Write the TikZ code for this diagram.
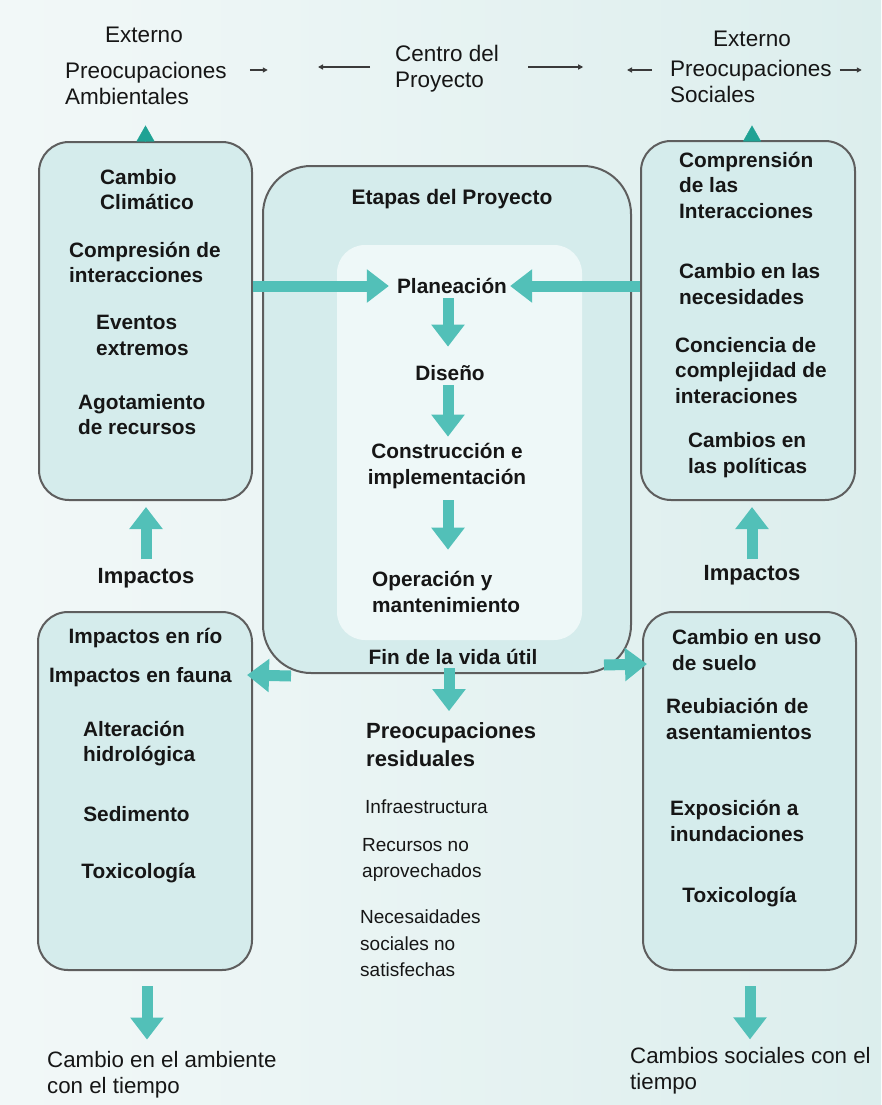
\documentclass[tikz,border=0pt]{standalone}
\usepackage{fontspec}
\setmainfont{Liberation Sans}
\usetikzlibrary{arrows.meta,calc}
\definecolor{bgL}{HTML}{F2F8F8}
\definecolor{bgR}{HTML}{DCEEED}
\definecolor{boxfill}{HTML}{D5ECEC}
\definecolor{innerfill}{HTML}{EEF8F8}
\definecolor{boxline}{HTML}{5E5E5E}
\definecolor{tealarr}{HTML}{52C0B8}
\definecolor{tealdark}{HTML}{1FA294}
\definecolor{txt}{HTML}{161616}
\definecolor{thinarr}{HTML}{3A3A3A}
\newcommand\ftBold{\fontsize{20.8}{25.5}\selectfont\bfseries}
\newcommand\ftBig{\fontsize{22}{28}\selectfont\bfseries}
\newcommand\ftTop{\fontsize{22.5}{26}\selectfont}
\newcommand\ftSmall{\fontsize{19}{26.5}\selectfont}
\newcommand\ftBot{\fontsize{22.3}{26}\selectfont}
\begin{document}
\begin{tikzpicture}[x=1pt,y=-1pt,
  bigbox/.style={draw=boxline, line width=2pt, fill=boxfill, rounded corners=30pt, inner sep=0pt},
  tB/.style={font=\ftBold, text=txt, inner sep=2pt, align=left},
  tBig/.style={font=\ftBig, text=txt, inner sep=2pt, align=left},
  tTop/.style={font=\ftTop, text=txt, inner sep=2pt, align=left},
  tSm/.style={font=\ftSmall, text=txt, inner sep=2pt, align=left},
  tBot/.style={font=\ftBot, text=txt, inner sep=2pt, align=left},
  barrow/.style={draw=tealarr, line width=11pt, -{Triangle[width=32pt,length=22pt]}},
  tipup/.style={draw=tealdark, line width=0.4pt, -{Triangle[width=18pt,length=16pt]}},
  tarrow/.style={draw=thinarr, line width=1.5pt, -{Triangle[width=5pt,length=5pt]}}
]
\shade[left color=bgL, right color=bgR] (0,0) rectangle (881,1105);
\useasboundingbox (0,0) rectangle (881,1105);

% boxes
\node[bigbox, minimum width=213pt, minimum height=358pt] (ltbox) at (145.5,321) {};
\node[bigbox, minimum width=214pt, minimum height=359pt] (rtbox) at (748,320.5) {};
\node[bigbox, rounded corners=48pt, minimum width=368pt, minimum height=507pt] (cbox) at (447,419.5) {};
\node[fill=innerfill, rounded corners=28pt, inner sep=0pt, minimum width=245pt, minimum height=395pt] (inner) at (459.5,442.5) {};
\node[bigbox, minimum width=214pt, minimum height=358pt] (lbbox) at (145,791) {};
\node[bigbox, minimum width=213pt, minimum height=358pt] (rbbox) at (749.5,791) {};

% top row
\node[tTop] (extL) at (144,35) {Externo};
\node[tTop, anchor=west] (envL) at (63,83) {Preocupaciones\\Ambientales};
\node[tTop, anchor=west] (centro) at (393,69) {Centro del\\Proyecto};
\node[tTop] (extR) at (752,39) {Externo};
\node[tTop, anchor=west] (socL) at (668,81) {Preocupaciones\\Sociales};

% left top box
\node[tB, anchor=west] (cc) at (98,189.5) {Cambio\\Climático};
\node[tB, anchor=west] (ci) at (67,262.5) {Compresión de\\interacciones};
\node[tB, anchor=west] (ee) at (94,335.5) {Eventos\\extremos};
\node[tB, anchor=west] (ar) at (76,414.5) {Agotamiento\\de recursos};

% right top box
\node[tB, anchor=west] (ci2) at (677,185) {Comprensión\\de las\\Interacciones};
\node[tB, anchor=west] (cn) at (677,284) {Cambio en las\\necesidades};
\node[tB, anchor=west] (cc2) at (673,370.5) {Conciencia de\\complejidad de\\interaciones};
\node[tB, anchor=west] (cp) at (686,455) {Cambios en\\las políticas};

% center
\node[tB, font=\fontsize{21}{26}\selectfont\bfseries] (etapas) at (452,199) {Etapas del Proyecto};
\node[tB] (plan) at (452,286) {Planeación};
\node[tB] (dis) at (450,373) {Diseño};
\node[tB, align=center] (cons) at (447,466) {Construcción e\\implementación};
\node[tB, anchor=west] (oper) at (370,592) {Operación y\\mantenimiento};
\node[tB] (fin) at (453,657) {Fin de la vida útil};

% impactos
\node[tBig] (impL) at (146,578) {Impactos};
\node[tBig] (impR) at (752,575) {Impactos};

% left bottom box
\node[tB] (rio) at (145.5,638) {Impactos en río};
\node[tB] (fauna) at (140.5,677) {Impactos en fauna};
\node[tB, anchor=west] (alt) at (81,743.5) {Alteración\\hidrológica};
\node[tB] (sed) at (136.5,814) {Sedimento};
\node[tB] (tox1) at (138.5,873) {Toxicología};

% right bottom box
\node[tB, anchor=west] (uso) at (670,650) {Cambio en uso\\de suelo};
\node[tB, anchor=west] (reu) at (664,719) {Reubiación de\\asentamientos};
\node[tB, anchor=west] (expo) at (668,821) {Exposición a\\inundaciones};
\node[tB] (tox2) at (739.5,897) {Toxicología};

% middle lower
\node[tBig, anchor=west] (resid) at (364,745) {Preocupaciones\\residuales};
\node[tSm, anchor=west] (infra) at (363,807) {Infraestructura};
\node[tSm, anchor=west] (rec) at (360,860) {Recursos no\\aprovechados};
\node[tSm, anchor=west] (nec) at (358,943.5) {Necesaidades\\sociales no\\satisfechas};

% bottom
\node[tBot, anchor=west] (envchg) at (45,1075) {Cambio en el ambiente\\con el tiempo};
\node[tBot, anchor=west] (socchg) at (628,1071) {Cambios sociales con el\\tiempo};

% thin arrows (top row)
\draw[tarrow] ($(envL.east)+(21,-13)$) -- ($(envL.east)+(39,-13)$);
\draw[tarrow] ($(centro.west)+(-23,-2)$) -- ($(centro.west)+(-75,-2)$);
\draw[tarrow] ($(centro.east)+(27,-2)$) -- ($(centro.east)+(82,-2)$);
\draw[tarrow] ($(socL.west)+(-16,-11)$) -- ($(socL.west)+(-41,-11)$);
\draw[tarrow] ($(socL.east)+(6,-11)$) -- ($(socL.east)+(28,-11)$);

% teal triangles above top boxes
\draw[tipup, shorten >=19pt] (ltbox.north) -- (ltbox.north |- envL.south);
\draw[tipup, shorten >=21pt] ($(rtbox.north)+(4,0)$) -- ($(rtbox.north |- socL.south)+(4,0)$);

% block arrows
\draw[barrow, shorten >=6pt] (ltbox.east |- plan.west) -- (plan.west);
\draw[barrow, shorten >=1pt] (rtbox.west |- plan.east) -- (plan.east);
\draw[barrow, shorten <=2.5pt, shorten >=16.5pt] ($(plan.south)+(-4,0)$) -- ($(plan.south |- dis.north)+(-4,0)$);
\draw[barrow, shorten <=2.5pt, shorten >=4.6pt] ($(dis.south)+(-2,0)$) -- ($(dis.south |- cons.north)+(-2,0)$);
\draw[barrow, shorten <=9.6pt, shorten >=19.6pt] ($(cons.south)+(1,0)$) -- ($(cons.south |- oper.north)+(1,0)$);
\draw[barrow, shorten <=1.5pt, shorten >=9.6pt] ($(fin.south)+(-4,0)$) -- ($(fin.south |- resid.north)+(-4,0)$);
\draw[barrow] ($(cbox.south west)+(29,2)$) -- ($(lbbox.east |- fauna)+(-6,-2)$);
\draw[barrow] ($(cbox.south east)+(-28,-9)$) -- ($(rbbox.west |- uso)+(5,14)$);
\draw[barrow, shorten <=6.5pt, shorten >=6pt] (impL.north) -- (impL.north |- ltbox.south);
\draw[barrow, shorten <=3.5pt, shorten >=6pt] (impR.north) -- (impR.north |- rtbox.south);
\draw[barrow, shorten <=15pt, shorten >=9.8pt] ($(lbbox.south)+(2,0)$) -- ($(lbbox.south |- envchg.north)+(2,0)$);
\draw[barrow, shorten <=15pt, shorten >=6pt] ($(rbbox.south)+(0.5,0)$) -- ($(rbbox.south |- socchg.north)+(0.5,0)$);
\end{tikzpicture}
\end{document}
